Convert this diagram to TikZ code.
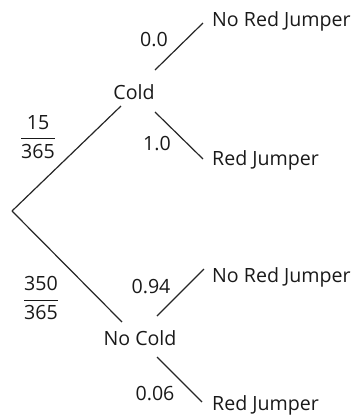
\documentclass[tikz,border=0pt]{standalone}
\usepackage{fontspec}
\setmainfont{Open Sans}
\begin{document}
\begin{tikzpicture}[x=1pt,y=-1pt,
  lbl/.style={inner sep=0pt,font=\fontsize{19.6}{22}\selectfont,text=black!90},
  br/.style={line width=1.2pt,draw=black!85}]
\useasboundingbox (0,0) rectangle (354,416);
\coordinate (root) at (12,211);
\node[lbl,anchor=base] (cold) at (134,99) {Cold};
\node[lbl,anchor=base] (nocold) at (140,345.7) {No Cold};
\node[lbl,anchor=base west] (nrj1) at (212,26.5) {No Red Jumper};
\node[lbl,anchor=base west] (rj1) at (212,165.5) {Red Jumper};
\node[lbl,anchor=base west] (nrj2) at (212,282.5) {No Red Jumper};
\node[lbl,anchor=base west] (rj2) at (212,410.7) {Red Jumper};
\node[lbl,anchor=base] (p00) at (154,46.7) {0.0};
\node[lbl,anchor=base] (p10) at (157,150) {1.0};
\node[lbl,anchor=base] (p94) at (151,293) {0.94};
\node[lbl,anchor=base] (p06) at (155,400) {0.06};
\node[lbl] (f1) at (38,137) {$\displaystyle\frac{\mbox{15}}{\mbox{365}}$};
\node[lbl] (f2) at (41,298) {$\displaystyle\frac{\mbox{350}}{\mbox{365}}$};
\draw[br] (root) -- ([shift={(-13,7)}]cold.base);
\draw[br] (root) -- ([shift={(-18,-23.7)}]nocold.base);
\draw[br] ([shift={(21,-29)}]cold.base) -- ([shift={(-9,-3.5)}]nrj1.base west);
\draw[br] ([shift={(21,13)}]cold.base) -- ([shift={(-9,-6.5)}]rj1.base west);
\draw[br] ([shift={(17,-29.7)}]nocold.base) -- ([shift={(-8,-13.5)}]nrj2.base west);
\draw[br] ([shift={(17,11.3)}]nocold.base) -- ([shift={(-10,-8.7)}]rj2.base west);
\end{tikzpicture}
\end{document}
